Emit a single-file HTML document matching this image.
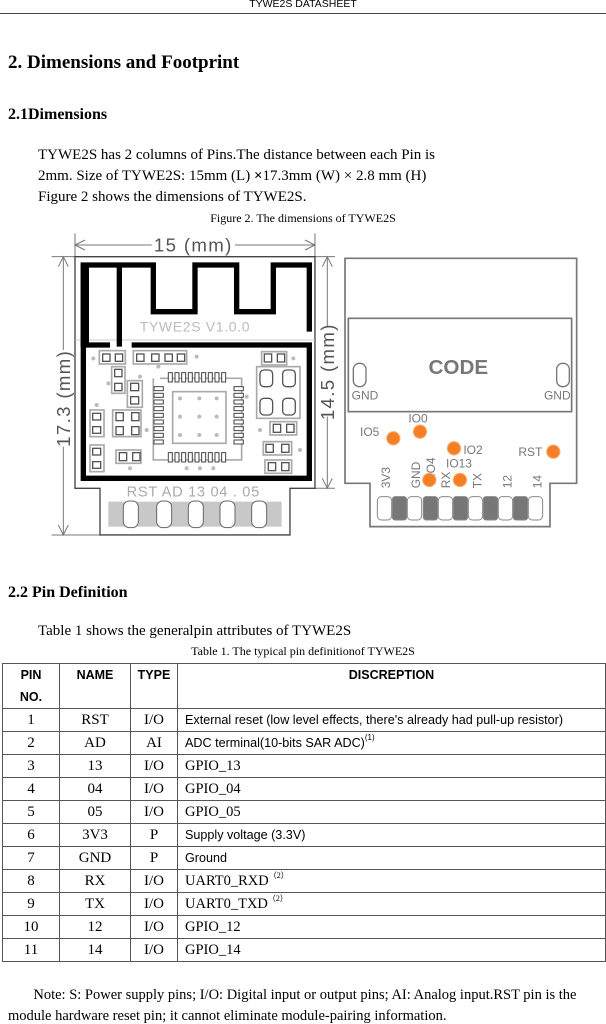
<!DOCTYPE html>
<html><head><meta charset="utf-8"><style>
body{margin:0;background:#fff;}
#p{position:relative;width:606px;height:1024px;overflow:hidden;font-family:"Liberation Serif",serif;color:#000;}
.a{position:absolute;white-space:nowrap;}
.s{font-family:"Liberation Sans",sans-serif;}
table{position:absolute;left:2px;top:663px;border-collapse:collapse;width:604px;table-layout:fixed;}
td{border:1px solid #555;height:22px;padding:0;font-size:15px;text-align:center;line-height:22px;overflow:hidden;}
td.d{text-align:left;padding-left:7px;font-family:"Liberation Sans",sans-serif;font-size:12.6px;}
td.dd{text-align:left;padding-left:7px;font-size:14.5px;}
th{border:1px solid #555;font-family:"Liberation Sans",sans-serif;font-weight:bold;font-size:12.5px;vertical-align:top;line-height:22px;height:43px;padding:0;}
sup{font-size:8px;line-height:0;vertical-align:baseline;position:relative;top:-7px;}
</style></head><body><div id="p">
<div class="a s" style="left:0;width:606px;text-align:center;top:-2px;font-size:10.5px;">TYWE2S DATASHEET</div>
<div class="a" style="left:0;top:13px;width:606px;border-top:1px solid #444;"></div>
<div class="a" style="left:8px;top:52px;font-size:19px;font-weight:bold;">2. Dimensions and Footprint</div>
<div class="a" style="left:8px;top:106px;font-size:16px;font-weight:bold;">2.1Dimensions</div>
<div class="a" style="left:38px;top:145px;font-size:15px;line-height:21px;">TYWE2S has 2 columns of Pins.The distance between each Pin is<br>2mm. Size of TYWE2S: 15mm (L) <b>×</b>17.3mm (W) × 2.8 mm (H)<br>Figure 2 shows the dimensions of TYWE2S.</div>
<div class="a" style="left:0;width:606px;text-align:center;top:211px;font-size:12px;">Figure 2. The dimensions of TYWE2S</div>

<svg class="a" style="left:0;top:0" width="606" height="560" viewBox="0 0 606 560">
<g transform="translate(40,230) scale(0.3333)" font-family="Liberation Sans, sans-serif">
 <g stroke="#777" stroke-width="3" fill="none">
  <line x1="105" y1="10" x2="105" y2="80"/><line x1="825" y1="10" x2="825" y2="80"/>
  <line x1="105" y1="45" x2="335" y2="45"/><line x1="585" y1="45" x2="825" y2="45"/>
  <path d="M135 30 L105 45 L135 60 M795 30 L825 45 L795 60"/>
  <line x1="35" y1="80" x2="105" y2="80"/><line x1="35" y1="915" x2="180" y2="915"/>
  <line x1="70" y1="80" x2="70" y2="360"/><line x1="70" y1="650" x2="70" y2="915"/>
  <path d="M55 110 L70 80 L85 110 M55 885 L70 915 L85 885"/>
  <line x1="825" y1="80" x2="885" y2="80"/><line x1="825" y1="775" x2="885" y2="775"/>
  <line x1="862" y1="80" x2="862" y2="290"/><line x1="862" y1="560" x2="862" y2="775"/>
  <path d="M847 110 L862 80 L877 110 M847 745 L862 775 L877 745"/>
  <path d="M105 80 L825 80 L825 775 L750 775 L750 915 L180 915 L180 775 L105 775 Z" stroke="#444" stroke-width="4"/>
  <line x1="105" y1="330" x2="825" y2="330" stroke="#bbb" stroke-width="2"/>
 </g>
 <text x="460" y="64" font-size="56" fill="#555" text-anchor="middle" letter-spacing="4">15 (mm)</text>
 <text transform="translate(90,505) rotate(-90)" font-size="56" fill="#555" text-anchor="middle" letter-spacing="4">17.3 (mm)</text>
 <text transform="translate(882,425) rotate(-90)" font-size="56" fill="#555" text-anchor="middle" letter-spacing="4">14.5 (mm)</text>
 <g stroke="#000" stroke-width="16" fill="none">
  <path d="M130 350 L130 105 L340 105 L340 245 L465 245 L465 105 L590 105 L590 245 L700 245 L700 105 L808 105 L808 305"/>
  <path d="M238 110 L238 350"/>
  <path d="M210 345 L130 345 L130 745 L808 745 L808 345 L275 345"/>
 </g>
 <rect x="122" y="100" width="25" height="250" fill="#000"/>
 <text x="465" y="305" font-size="42" fill="#bbb" text-anchor="middle" letter-spacing="2">TYWE2S  V1.0.0</text>
 <g fill="#fff" stroke="#aaa" stroke-width="5">
  <rect x="178" y="362" width="78" height="40"/><rect x="280" y="362" width="160" height="40"/>
  <rect x="215" y="410" width="40" height="80"/><rect x="262" y="452" width="45" height="80"/>
  <rect x="150" y="540" width="42" height="80"/><rect x="218" y="540" width="85" height="80"/>
  <rect x="150" y="645" width="42" height="80"/><rect x="228" y="660" width="75" height="40"/>
  <rect x="665" y="365" width="75" height="40"/><rect x="650" y="410" width="130" height="155"/>
  <rect x="690" y="575" width="80" height="40"/><rect x="670" y="635" width="85" height="40"/>
  <rect x="675" y="690" width="80" height="40"/>
  <path d="M340 445 L340 690 L605 690 L605 445 L360 445" fill="none"/>
  <rect x="398" y="485" width="160" height="155"/>
 </g>
 <g fill="#fff" stroke="#555" stroke-width="4">
  <rect x="188" y="372" width="22" height="22"/><rect x="226" y="372" width="22" height="22"/>
  <rect x="290" y="372" width="22" height="22"/><rect x="335" y="372" width="22" height="22"/><rect x="375" y="372" width="22" height="22"/><rect x="412" y="372" width="22" height="22"/>
  <rect x="224" y="418" width="22" height="22"/><rect x="224" y="460" width="22" height="22"/>
  <rect x="272" y="460" width="24" height="22"/><rect x="272" y="500" width="24" height="22"/>
  <rect x="158" y="550" width="24" height="20"/><rect x="158" y="590" width="24" height="20"/>
  <rect x="228" y="548" width="22" height="24"/><rect x="275" y="548" width="22" height="24"/>
  <rect x="228" y="590" width="22" height="24"/><rect x="275" y="590" width="22" height="24"/>
  <rect x="158" y="655" width="24" height="20"/><rect x="158" y="695" width="24" height="20"/>
  <rect x="238" y="668" width="22" height="24"/><rect x="278" y="668" width="22" height="24"/>
  <rect x="673" y="372" width="22" height="24"/><rect x="712" y="372" width="22" height="24"/>
  <rect x="660" y="420" width="38" height="50" rx="12"/><rect x="728" y="420" width="38" height="50" rx="12"/>
  <rect x="660" y="505" width="38" height="50" rx="12"/><rect x="728" y="505" width="38" height="50" rx="12"/>
  <rect x="700" y="583" width="22" height="24"/><rect x="740" y="583" width="22" height="24"/>
  <rect x="678" y="643" width="22" height="24"/><rect x="725" y="643" width="22" height="24"/>
  <rect x="685" y="698" width="22" height="24"/><rect x="725" y="698" width="22" height="24"/>
 </g>
 <g fill="#fff" stroke="#444" stroke-width="3">
  <rect x="385" y="428" width="12" height="28"/><rect x="405" y="428" width="12" height="28"/><rect x="425" y="428" width="12" height="28"/><rect x="445" y="428" width="12" height="28"/><rect x="465" y="428" width="12" height="28"/><rect x="485" y="428" width="12" height="28"/><rect x="505" y="428" width="12" height="28"/><rect x="525" y="428" width="12" height="28"/><rect x="545" y="428" width="12" height="28"/>
  <rect x="385" y="668" width="12" height="28"/><rect x="405" y="668" width="12" height="28"/><rect x="425" y="668" width="12" height="28"/><rect x="445" y="668" width="12" height="28"/><rect x="465" y="668" width="12" height="28"/><rect x="485" y="668" width="12" height="28"/><rect x="505" y="668" width="12" height="28"/><rect x="525" y="668" width="12" height="28"/><rect x="545" y="668" width="12" height="28"/>
  <rect x="342" y="470" width="28" height="12"/><rect x="342" y="490" width="28" height="12"/><rect x="342" y="510" width="28" height="12"/><rect x="342" y="530" width="28" height="12"/><rect x="342" y="550" width="28" height="12"/><rect x="342" y="570" width="28" height="12"/><rect x="342" y="590" width="28" height="12"/><rect x="342" y="610" width="28" height="12"/><rect x="342" y="630" width="28" height="12"/>
  <rect x="582" y="470" width="28" height="12"/><rect x="582" y="490" width="28" height="12"/><rect x="582" y="510" width="28" height="12"/><rect x="582" y="530" width="28" height="12"/><rect x="582" y="550" width="28" height="12"/><rect x="582" y="570" width="28" height="12"/><rect x="582" y="590" width="28" height="12"/><rect x="582" y="610" width="28" height="12"/><rect x="582" y="630" width="28" height="12"/>
 </g>
 <g fill="#bbb">
  <circle cx="420" cy="505" r="6"/><circle cx="478" cy="505" r="6"/><circle cx="530" cy="505" r="6"/>
  <circle cx="420" cy="560" r="6"/><circle cx="478" cy="560" r="6"/><circle cx="530" cy="560" r="6"/>
  <circle cx="420" cy="615" r="6"/><circle cx="478" cy="615" r="6"/><circle cx="530" cy="615" r="6"/>
  <circle cx="160" cy="385" r="6"/><circle cx="355" cy="410" r="6"/><circle cx="470" cy="380" r="6"/><circle cx="300" cy="440" r="6"/>
  <circle cx="205" cy="460" r="6"/><circle cx="320" cy="600" r="6"/><circle cx="170" cy="525" r="6"/><circle cx="620" cy="500" r="6"/>
  <circle cx="440" cy="715" r="6"/><circle cx="480" cy="715" r="6"/><circle cx="520" cy="715" r="6"/><circle cx="270" cy="715" r="6"/>
  <circle cx="760" cy="385" r="6"/><circle cx="660" cy="600" r="6"/><circle cx="780" cy="660" r="6"/>
 </g>
 <text x="460" y="800" font-size="44" fill="#aaa" text-anchor="middle" letter-spacing="2">RST  AD  13   04 . 05</text>
 <g stroke="#666" stroke-width="3">
  <rect x="205" y="815" width="520" height="75" fill="#c8c8c8" stroke="none"/>
  <rect x="250" y="813" width="45" height="80" rx="18" fill="#fff"/><rect x="350" y="813" width="45" height="80" rx="18" fill="#fff"/>
  <rect x="445" y="813" width="45" height="80" rx="18" fill="#fff"/><rect x="540" y="813" width="45" height="80" rx="18" fill="#fff"/>
  <rect x="635" y="813" width="45" height="80" rx="18" fill="#fff"/>
 </g>
</g>

<g transform="translate(340,250) scale(0.3333)" font-family="Liberation Sans, sans-serif">
 <path d="M15 25 L710 25 L710 700 L630 700 L630 830 L90 830 L90 700 L15 700 Z" fill="#fff" stroke="#777" stroke-width="5"/>
 <rect x="25" y="205" width="670" height="280" fill="#fff" stroke="#777" stroke-width="5"/>
 <text x="355" y="372" font-size="62" font-weight="bold" fill="#777" text-anchor="middle">CODE</text>
 <rect x="40" y="340" width="38" height="70" rx="18" fill="#fff" stroke="#777" stroke-width="4"/>
 <rect x="650" y="340" width="38" height="70" rx="18" fill="#fff" stroke="#777" stroke-width="4"/>
 <g font-size="36" fill="#777">
  <text x="35" y="448">GND</text><text x="612" y="448">GND</text>
  <text x="60" y="558">IO5</text><text x="205" y="518">IO0</text>
  <text x="370" y="612">IO2</text><text x="535" y="618">RST</text><text x="318" y="652">IO13</text>
  <text transform="translate(150,715) rotate(-90)">3V3</text>
  <text transform="translate(240,715) rotate(-90)">GND</text>
  <text transform="translate(285,680) rotate(-90)">IO4</text>
  <text transform="translate(330,715) rotate(-90)">RX</text>
  <text transform="translate(425,715) rotate(-90)">TX</text>
  <text transform="translate(515,715) rotate(-90)">12</text>
  <text transform="translate(605,715) rotate(-90)">14</text>
 </g>
 <g fill="#f57f25" stroke="#f9b07a" stroke-width="3">
  <circle cx="160" cy="565" r="20"/><circle cx="240" cy="545" r="20"/><circle cx="342" cy="595" r="20"/>
  <circle cx="640" cy="605" r="20"/><circle cx="268" cy="690" r="20"/><circle cx="360" cy="690" r="20"/>
 </g>
 <g stroke="#888" stroke-width="3">
  <rect x="112" y="740" width="43" height="70" rx="12" fill="#fff"/><rect x="157" y="740" width="43" height="70" rx="8" fill="#777"/>
  <rect x="202" y="740" width="43" height="70" rx="12" fill="#fff"/><rect x="250" y="740" width="43" height="70" rx="8" fill="#777"/>
  <rect x="295" y="740" width="43" height="70" rx="12" fill="#fff"/><rect x="340" y="740" width="43" height="70" rx="8" fill="#777"/>
  <rect x="385" y="740" width="43" height="70" rx="12" fill="#fff"/><rect x="430" y="740" width="43" height="70" rx="8" fill="#777"/>
  <rect x="475" y="740" width="43" height="70" rx="12" fill="#fff"/><rect x="520" y="740" width="43" height="70" rx="8" fill="#777"/>
  <rect x="565" y="740" width="43" height="70" rx="12" fill="#fff"/>
 </g>
</g>
</svg>

<div class="a" style="left:8px;top:584px;font-size:16px;font-weight:bold;">2.2 Pin Definition</div>
<div class="a" style="left:38px;top:623px;font-size:15px;">Table 1 shows the generalpin attributes of TYWE2S</div>
<div class="a" style="left:0;width:606px;text-align:center;top:644px;font-size:12px;">Table 1. The typical pin definitionof TYWE2S</div>
<table>
<tr><th style="width:56px">PIN<br>NO.</th><th style="width:70px">NAME</th><th style="width:46px">TYPE</th><th>DISCREPTION</th></tr>
<tr><td>1</td><td>RST</td><td>I/O</td><td class="d">External reset (low level effects, there's already had pull-up resistor)</td></tr>
<tr><td>2</td><td>AD</td><td>AI</td><td class="d">ADC terminal(10-bits SAR ADC)<sup>(1)</sup></td></tr>
<tr><td>3</td><td>13</td><td>I/O</td><td class="dd">GPIO_13</td></tr>
<tr><td>4</td><td>04</td><td>I/O</td><td class="dd">GPIO_04</td></tr>
<tr><td>5</td><td>05</td><td>I/O</td><td class="dd">GPIO_05</td></tr>
<tr><td>6</td><td>3V3</td><td>P</td><td class="d">Supply voltage (3.3V)</td></tr>
<tr><td>7</td><td>GND</td><td>P</td><td class="d">Ground</td></tr>
<tr><td>8</td><td>RX</td><td>I/O</td><td class="dd">UART0_RXD<sup>（2）</sup></td></tr>
<tr><td>9</td><td>TX</td><td>I/O</td><td class="dd">UART0_TXD<sup>（2）</sup></td></tr>
<tr><td>10</td><td>12</td><td>I/O</td><td class="dd">GPIO_12</td></tr>
<tr><td>11</td><td>14</td><td>I/O</td><td class="dd">GPIO_14</td></tr>
</table>
<div class="a" style="left:8px;top:985px;font-size:14.5px;line-height:21px;white-space:normal;width:598px;">&nbsp;&nbsp;&nbsp;&nbsp;&nbsp;&nbsp;&nbsp;Note: S: Power supply pins; I/O: Digital input or output pins; AI: Analog input.RST pin is the module hardware reset pin; it cannot eliminate module-pairing information.</div>
</div></body></html>
